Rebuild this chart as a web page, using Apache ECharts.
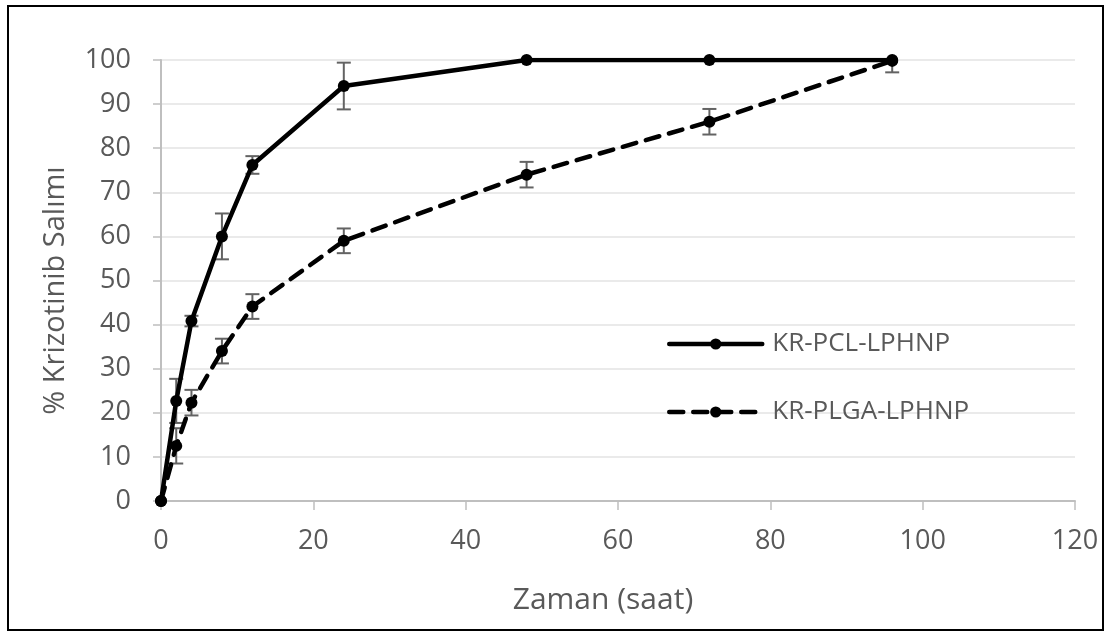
<!DOCTYPE html>
<html>
<head>
<meta charset="utf-8">
<script src="https://cdn.jsdelivr.net/npm/echarts@6/dist/echarts.min.js"></script>
<style>
  html, body { margin: 0; padding: 0; background: #fff; }
  #chart { width: 1107px; height: 637px; }
</style>
</head>
<body>
<div id="chart"></div>
<script>
// Release time points (hours)
const timeHours = [0, 2, 4, 8, 12, 24, 48, 72, 96];

// KR-PCL-LPHNP: mean cumulative release (%) and standard deviation
const pclName = 'KR-PCL-LPHNP';
const pclMean = [0, 22.7, 40.8, 60, 76.2, 94.1, 100, 100, 100];
const pclErr  = [0, 5, 1.2, 5.2, 2, 5.3, 0, 0, 0];

// KR-PLGA-LPHNP: mean cumulative release (%) and standard deviation
const plgaName = 'KR-PLGA-LPHNP';
const plgaMean = [0, 12.5, 22.3, 34, 44.1, 59, 74, 86, 99.8];
const plgaErr  = [0, 4, 2.9, 2.8, 2.8, 2.8, 2.9, 2.9, 2.6];

// Axis settings
const xTicks = { min: 0, max: 120, interval: 20 };
const yTicks = { min: 0, max: 100, interval: 10 };
const xTitle = 'Zaman (saat)';
const yTitle = '% Krizotinib Salımı';

const FONT = '"Open Sans", Lato, sans-serif';
const TEXT_GRAY = '#595959';

function pairs(xs, ys) { return xs.map((x, i) => [x, ys[i]]); }
function errRows(xs, mean, err) { return xs.map((x, i) => [x, mean[i], err[i]]); }

// Vertical error bar with caps, clipped to the y-axis range
function renderErrorBar(params, api) {
  const x = api.value(0), m = api.value(1), e = api.value(2);
  if (!e) return null;
  const hi = Math.min(yTicks.max, m + e);
  const lo = Math.max(yTicks.min, m - e);
  const pTop = api.coord([x, hi]);
  const pBot = api.coord([x, lo]);
  const half = 7;
  const style = { stroke: '#636363', lineWidth: 2 };
  const children = [
    { type: 'line', shape: { x1: pTop[0], y1: pTop[1], x2: pBot[0], y2: pBot[1] }, style }
  ];
  if (m + e <= yTicks.max) {
    children.push({ type: 'line', shape: { x1: pTop[0] - half, y1: pTop[1], x2: pTop[0] + half, y2: pTop[1] }, style });
  }
  children.push({ type: 'line', shape: { x1: pBot[0] - half, y1: pBot[1], x2: pBot[0] + half, y2: pBot[1] }, style });
  return { type: 'group', children };
}

function legendBlock(name, top) {
  return {
    data: [name], left: 667, top: top, orient: 'vertical', padding: 0,
    itemWidth: 93, itemHeight: 14,
    lineStyle: { width: 4.5 },
    textStyle: { fontFamily: FONT, fontSize: 26, lineHeight: 30, color: TEXT_GRAY, padding: [0, 0, 0, 5] }
  };
}

const chart = echarts.init(document.getElementById('chart'), null, { renderer: 'canvas' });

chart.setOption({
  backgroundColor: '#ffffff',
  animation: false,
  grid: { left: 161, right: 32, top: 60, bottom: 136, containLabel: false },
  graphic: [{
    type: 'rect',
    shape: { x: 8, y: 6, width: 1095, height: 624 },
    style: { fill: 'none', stroke: '#000', lineWidth: 2 },
    silent: true
  }],
  legend: [legendBlock(pclName, 329), legendBlock(plgaName, 397)],
  xAxis: {
    type: 'value',
    min: xTicks.min, max: xTicks.max, interval: xTicks.interval,
    name: xTitle, nameLocation: 'middle', nameGap: 84,
    nameTextStyle: { fontFamily: FONT, fontSize: 30, color: TEXT_GRAY, padding: [0, 30, 0, 0] },
    axisLine: { show: true, onZero: false, lineStyle: { color: '#bfbfbf', width: 2 } },
    axisTick: { show: true, length: 9, lineStyle: { color: '#bfbfbf', width: 1.5 } },
    axisLabel: { fontFamily: FONT, fontSize: 27, color: TEXT_GRAY, margin: 27 },
    splitLine: { show: false }
  },
  yAxis: {
    type: 'value',
    min: yTicks.min, max: yTicks.max, interval: yTicks.interval,
    name: yTitle, nameLocation: 'middle', nameGap: 91, nameRotate: 90,
    nameTextStyle: { fontFamily: FONT, fontSize: 29, color: TEXT_GRAY, padding: [0, 20, 0, 0] },
    axisLine: { show: true, lineStyle: { color: '#bfbfbf', width: 2 } },
    axisTick: { show: true, length: 8, lineStyle: { color: '#bfbfbf', width: 1.5 } },
    axisLabel: { fontFamily: FONT, fontSize: 27, color: TEXT_GRAY, margin: 30 },
    splitLine: { show: true, lineStyle: { color: '#e3e3e3', width: 1.5 } }
  },
  series: [
    {
      type: 'custom', name: pclName + ' SD',
      renderItem: renderErrorBar,
      data: errRows(timeHours, pclMean, pclErr),
      encode: { x: 0, y: 1 }, z: 1, silent: true
    },
    {
      type: 'custom', name: plgaName + ' SD',
      renderItem: renderErrorBar,
      data: errRows(timeHours, plgaMean, plgaErr),
      encode: { x: 0, y: 1 }, z: 1, silent: true
    },
    {
      type: 'line', name: pclName,
      data: pairs(timeHours, pclMean),
      symbol: 'circle', symbolSize: 12,
      itemStyle: { color: '#000' },
      lineStyle: { color: '#000', width: 4.5, cap: 'round', join: 'round' },
      z: 3
    },
    {
      type: 'line', name: plgaName,
      data: pairs(timeHours, plgaMean),
      symbol: 'circle', symbolSize: 12,
      itemStyle: { color: '#000' },
      lineStyle: { color: '#000', width: 4.5, type: [14, 10], cap: 'round', join: 'round' },
      z: 3
    }
  ]
});
</script>
</body>
</html>
